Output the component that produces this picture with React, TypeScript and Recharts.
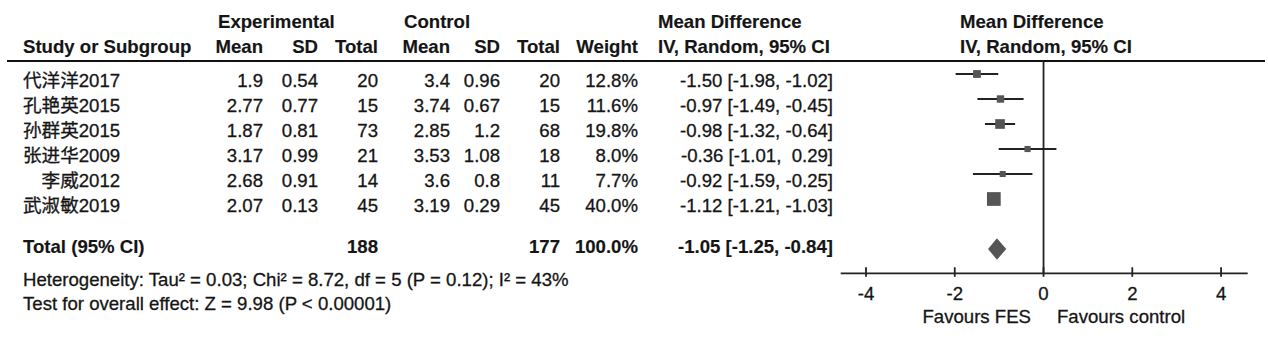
import React from "react"
import { Area, ComposedChart, ReferenceLine, Scatter, XAxis, YAxis } from "recharts"

// Study data
const studies = ["代洋洋2017", "孔艳英2015", "孙群英2015", "张进华2009", "\u3000李威2012", "武淑敏2019"]
const expMean = [1.9, 2.77, 1.87, 3.17, 2.68, 2.07]
const expSD = [0.54, 0.77, 0.81, 0.99, 0.91, 0.13]
const expTotal = [20, 15, 73, 21, 14, 45]
const ctrlMean = [3.4, 3.74, 2.85, 3.53, 3.6, 3.19]
const ctrlSD = [0.96, 0.67, 1.2, 1.08, 0.8, 0.29]
const ctrlTotal = [20, 15, 68, 18, 11, 45]
const weights = [12.8, 11.6, 19.8, 8.0, 7.7, 40.0]
const meanDiff = [-1.5, -0.97, -0.98, -0.36, -0.92, -1.12]
const ciLow = [-1.98, -1.49, -1.32, -1.01, -1.59, -1.21]
const ciHigh = [-1.02, -0.45, -0.64, 0.29, -0.25, -1.03]

const totalExp = 188
const totalCtrl = 177
const totalWeight = 100.0
const totalMD = -1.05
const totalLow = -1.25
const totalHigh = -0.84

const heterogeneity = "Heterogeneity: Tau² = 0.03; Chi² = 8.72, df = 5 (P = 0.12); I² = 43%"
const overallEffect = "Test for overall effect: Z = 9.98 (P < 0.00001)"
const axisTicks = [-4, -2, 0, 2, 4]

const FONT = "'Liberation Sans', Arial, 'Noto Sans CJK SC', sans-serif"
const FS = 18.6
const INK = "#151515"
const MARK = "#555555"
const TOTAL_ROW = 7
const DIAMOND_HALF = 0.43

const fmtCI = (m: number, lo: number, hi: number) =>
  `${m.toFixed(2)} [${lo.toFixed(2)}, ${hi >= 0 ? " " : ""}${hi.toFixed(2)}]`

const plotData = studies.map((s, i) => ({ x: meanDiff[i], y: i, w: weights[i], name: s }))
const diamondData = [
  { x: totalLow, y: [TOTAL_ROW, TOTAL_ROW] },
  { x: totalMD, y: [TOTAL_ROW - DIAMOND_HALF, TOTAL_ROW + DIAMOND_HALF] },
  { x: totalHigh, y: [TOTAL_ROW, TOTAL_ROW] },
]

// text helper for the table part (a thin stroke mimics the heavy scan)
const T = ({ x, y, anchor = "start", bold = false, children }: any) => (
  <text
    x={x}
    y={y}
    textAnchor={anchor}
    fontFamily={FONT}
    fontSize={FS}
    fontWeight={bold ? "bold" : "normal"}
    fill={INK}
    stroke={INK}
    strokeWidth={bold ? 0.15 : 0.3}
    style={{ whiteSpace: "pre" }}
  >
    {children}
  </text>
)

const Square = (props: any) => {
  const { cx, cy, payload } = props
  const s = 2.17 * Math.sqrt(payload.w)
  return <rect x={cx - s / 2} y={cy - s / 2} width={s} height={s} fill={MARK} />
}

const AxisTick = (props: any) => {
  const { x, y, payload } = props
  return (
    <g>
      <line x1={x} x2={x} y1={y - 6} y2={y + 3.5} stroke="#222" strokeWidth={1.8} />
      <text x={x} y={y + 27} textAnchor="middle" fontFamily={FONT} fontSize={FS} fill={INK} stroke={INK} strokeWidth={0.3}>
        {payload.value}
      </text>
    </g>
  )
}

// column right edges
const cols = { expMean: 263, expSD: 318, expTotal: 378, ctrlMean: 450, ctrlSD: 500, ctrlTotal: 560, weight: 638, ci: 833 }

export default function App() {
  const rowY = (i: number) => 87 + 25 * i
  return (
    <div style={{ position: "absolute", left: 0, top: 0, width: 1268, height: 353, background: "#fff" }}>
      <svg width={1268} height={353} style={{ position: "absolute", left: 0, top: 0 }}>
        {/* header */}
        <T x={218} y={28} bold>Experimental</T>
        <T x={404} y={28} bold>Control</T>
        <T x={658} y={28} bold>Mean Difference</T>
        <T x={960} y={28} bold>Mean Difference</T>
        <T x={23} y={53} bold>Study or Subgroup</T>
        <T x={cols.expMean} y={53} anchor="end" bold>Mean</T>
        <T x={cols.expSD} y={53} anchor="end" bold>SD</T>
        <T x={cols.expTotal} y={53} anchor="end" bold>Total</T>
        <T x={cols.ctrlMean} y={53} anchor="end" bold>Mean</T>
        <T x={cols.ctrlSD} y={53} anchor="end" bold>SD</T>
        <T x={cols.ctrlTotal} y={53} anchor="end" bold>Total</T>
        <T x={cols.weight} y={53} anchor="end" bold>Weight</T>
        <T x={658} y={53} bold>IV, Random, 95% CI</T>
        <T x={960} y={53} bold>IV, Random, 95% CI</T>
        <line x1={7} x2={1265} y1={61} y2={61} stroke="#111" strokeWidth={2} />

        {/* study rows */}
        {studies.map((s, i) => (
          <g key={s}>
            <T x={23} y={rowY(i)}>{s}</T>
            <T x={cols.expMean} y={rowY(i)} anchor="end">{String(expMean[i])}</T>
            <T x={cols.expSD} y={rowY(i)} anchor="end">{String(expSD[i])}</T>
            <T x={cols.expTotal} y={rowY(i)} anchor="end">{String(expTotal[i])}</T>
            <T x={cols.ctrlMean} y={rowY(i)} anchor="end">{String(ctrlMean[i])}</T>
            <T x={cols.ctrlSD} y={rowY(i)} anchor="end">{String(ctrlSD[i])}</T>
            <T x={cols.ctrlTotal} y={rowY(i)} anchor="end">{String(ctrlTotal[i])}</T>
            <T x={cols.weight} y={rowY(i)} anchor="end">{weights[i].toFixed(1) + "%"}</T>
            <T x={cols.ci} y={rowY(i)} anchor="end">{fmtCI(meanDiff[i], ciLow[i], ciHigh[i])}</T>
          </g>
        ))}

        {/* total */}
        <T x={23} y={253} bold>Total (95% CI)</T>
        <T x={cols.expTotal} y={253} anchor="end" bold>{String(totalExp)}</T>
        <T x={cols.ctrlTotal} y={253} anchor="end" bold>{String(totalCtrl)}</T>
        <T x={cols.weight} y={253} anchor="end" bold>{totalWeight.toFixed(1) + "%"}</T>
        <T x={cols.ci} y={253} anchor="end" bold>{fmtCI(totalMD, totalLow, totalHigh)}</T>

        <T x={23} y={285.5}>{heterogeneity}</T>
        <T x={23} y={310}>{overallEffect}</T>

        <T x={1031} y={323} anchor="end">Favours FES</T>
        <T x={1057} y={323}>Favours control</T>
      </svg>

      <div style={{ position: "absolute", left: 820, top: 0 }}>
        <ComposedChart width={448} height={353} margin={{ top: 61, right: 20.3, bottom: 49.7, left: 20.7 }}>
          <XAxis
            dataKey="x"
            type="number"
            domain={[-4.57, 4.6]}
            allowDataOverflow
            ticks={axisTicks}
            interval={0}
            height={30}
            tickLine={false}
            tickSize={0}
            tickMargin={0}
            tick={<AxisTick />}
            axisLine={{ stroke: "#222", strokeWidth: 1.8 }}
          />
          <YAxis dataKey="y" type="number" domain={[-0.52, 7.972]} reversed hide allowDataOverflow />
          <ReferenceLine x={0} stroke="#222" strokeWidth={1.8} />
          {studies.map((s, i) => (
            <ReferenceLine
              key={s}
              segment={[
                { x: ciLow[i], y: i },
                { x: ciHigh[i], y: i },
              ]}
              stroke="#222"
              strokeWidth={2}
            />
          ))}
          <Scatter data={plotData} shape={<Square />} isAnimationActive={false} />
          <Area
            data={diamondData}
            dataKey="y"
            type="linear"
            stroke="none"
            fill={MARK}
            fillOpacity={1}
            dot={false}
            activeDot={false}
            isAnimationActive={false}
          />
        </ComposedChart>
      </div>
    </div>
  )
}
